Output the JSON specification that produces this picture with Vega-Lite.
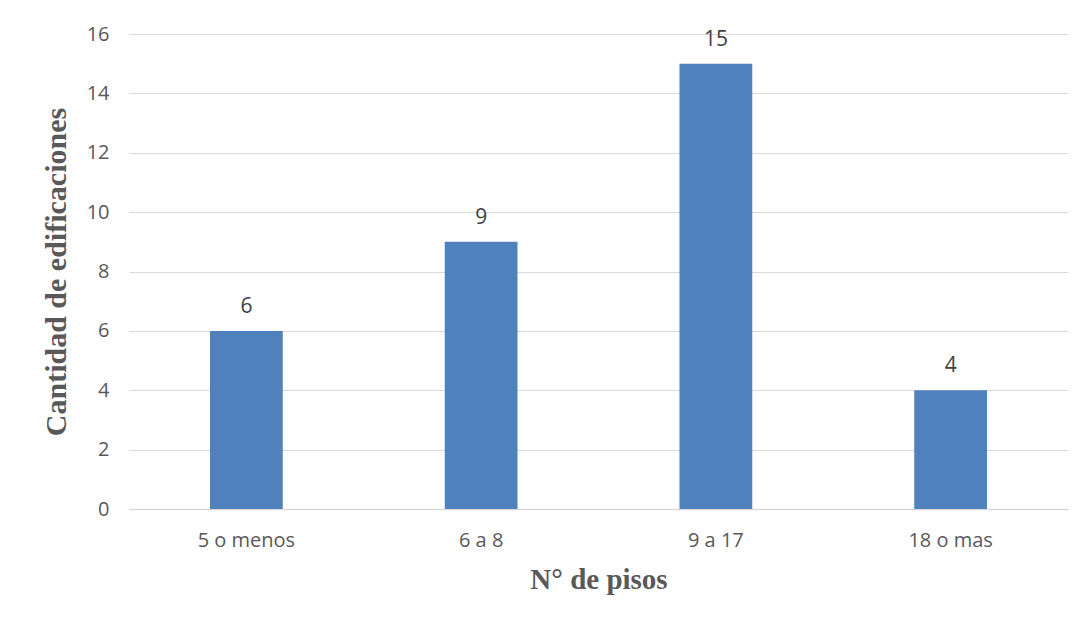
{
  "$schema": "https://vega.github.io/schema/vega-lite/v6.json",
  "autosize": "none",
  "width": 939,
  "height": 475,
  "padding": {"left": 129, "top": 34, "right": 21, "bottom": 114},
  "background": "white",
  "config": {
    "view": {"stroke": null},
    "axis": {"labelFont": "Open Sans", "labelColor": "#595959", "titleFont": "Liberation Serif", "titleColor": "#595959"}
  },
  "data": {
    "values": [
      {"pisos": "5 o menos", "cantidad": 6},
      {"pisos": "6 a 8", "cantidad": 9},
      {"pisos": "9 a 17", "cantidad": 15},
      {"pisos": "18 o mas", "cantidad": 4}
    ]
  },
  "encoding": {
    "x": {
      "field": "pisos",
      "type": "nominal",
      "sort": null,
      "scale": {"paddingInner": 0.69, "paddingOuter": 0.345},
      "axis": {
        "title": "N° de pisos",
        "titleFontSize": 29,
        "titleFontWeight": "bold",
        "titlePadding": 15,
        "labelAngle": 0,
        "labelFontSize": 20,
        "labelPadding": 21,
        "ticks": false,
        "domainColor": "#d9d9d9",
        "domainWidth": 1.5
      }
    },
    "y": {
      "field": "cantidad",
      "type": "quantitative",
      "scale": {"domain": [0, 16]},
      "axis": {
        "title": "Cantidad de edificaciones",
        "titleFontSize": 30,
        "titleFontWeight": "bold",
        "titlePadding": 15,
        "values": [0, 2, 4, 6, 8, 10, 12, 14, 16],
        "labelFontSize": 20,
        "labelPadding": 20,
        "ticks": false,
        "domain": false,
        "gridColor": "#d9d9d9",
        "gridWidth": 1.2
      }
    }
  },
  "layer": [
    {"mark": {"type": "bar", "color": "#4f81bd"}},
    {
      "mark": {"type": "text", "dy": -14, "baseline": "bottom", "font": "Open Sans", "fontSize": 21, "color": "#404040"},
      "encoding": {"text": {"field": "cantidad", "type": "quantitative"}}
    }
  ]
}
